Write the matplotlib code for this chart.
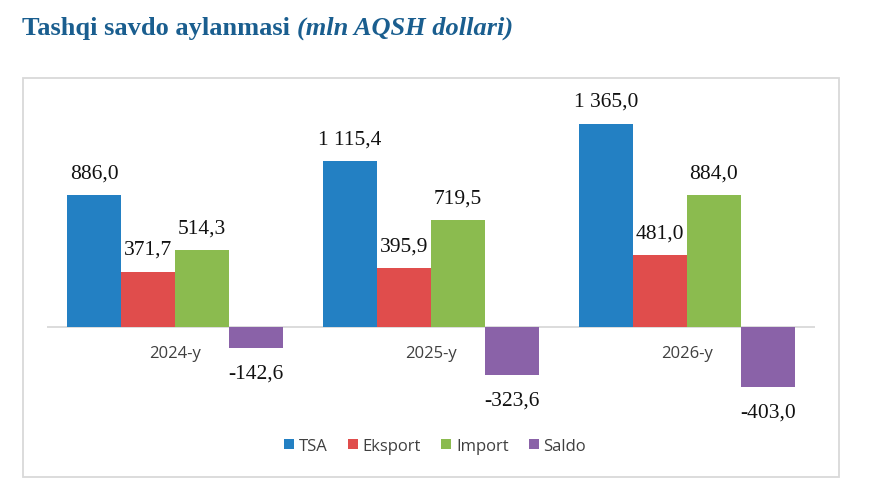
import matplotlib.pyplot as plt
import numpy as np
from matplotlib.patches import Rectangle

years = ["2024-y", "2025-y", "2026-y"]
series = ["TSA", "Eksport", "Import", "Saldo"]
tsa = [886.0, 1115.4, 1365.0]
eksport = [371.7, 395.9, 481.0]
import_ = [514.3, 719.5, 884.0]
saldo = [-142.6, -323.6, -403.0]
colors = ["#2380C3", "#E04D4C", "#8BBB4F", "#8A62A8"]


def fmt(v):
    s = f"{abs(v):,.1f}".replace(",", " ").replace(".", ",")
    return ("-" if v < 0 else "") + s


W, H = 870, 489
fig = plt.figure(figsize=(W / 100, H / 100), dpi=100)

# outer frame
fig.patches.append(Rectangle((23 / W, 1 - 478 / H), (839 - 23) / W, (478 - 79) / H,
                             transform=fig.transFigure, fill=False,
                             edgecolor="#d9d9d9", linewidth=1.3))

# axes placed in pixel coordinates
ax_left, ax_right, ax_top, ax_bot = 47, 815, 100, 420
ax = fig.add_axes([ax_left / W, 1 - ax_bot / H, (ax_right - ax_left) / W, (ax_bot - ax_top) / H])
zero_px = 328
scale = 132 / 886.0  # px per unit
ax.set_ylim(-(ax_bot - zero_px) / scale, (zero_px - ax_top) / scale)
ax.set_xlim(-0.5, 2.5)

x = np.arange(len(years))
bw = 54 / 256
data = [tsa, eksport, import_, saldo]
for i, (name, vals) in enumerate(zip(series, data)):
    pos = x + (i - 1.5) * bw
    ax.bar(pos, vals, width=bw, color=colors[i], label=name, zorder=2)
    for p, v in zip(pos, vals):
        off = 16 if v >= 0 else -18
        ax.annotate(fmt(v), (p, v), xytext=(0, off), textcoords="offset points",
                    ha="center", va="center", fontsize=15.5,
                    family="Liberation Serif", color="#111111")

ax.axhline(0, color="#d9d9d9", linewidth=1.3, zorder=1)
for xi, lab in zip(x, years):
    ax.annotate(lab, (xi, 0), xytext=(0, -19), textcoords="offset points",
                ha="center", va="center", fontsize=12, family="Open Sans",
                color="#404040")

ax.axis("off")

leg = fig.legend(loc="center", bbox_to_anchor=(435 / W, 1 - 447 / H), ncol=4,
                 frameon=False, handlelength=0.6, handleheight=0.6,
                 handletextpad=0.3, columnspacing=1.2,
                 prop={"family": "Open Sans", "size": 12})
for t in leg.get_texts():
    t.set_color("#404040")

t1 = fig.text(22 / W, 1 - 28 / H, "Tashqi savdo aylanmasi ", fontsize=19,
              family="Liberation Serif", weight="bold", color="#1A5E8F",
              va="center", ha="left")
ax.annotate("(mln AQSH dollari)", xy=(1, 0.5), xycoords=t1, va="center", ha="left",
            fontsize=19, family="Liberation Serif", weight="bold", style="italic",
            color="#1A5E8F", annotation_clip=False)

fig.savefig("out.png", dpi=100)
